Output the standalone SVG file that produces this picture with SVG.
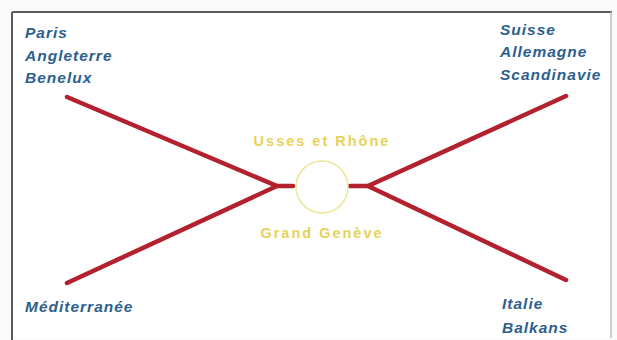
<svg xmlns="http://www.w3.org/2000/svg" width="617" height="340" viewBox="0 0 617 340">
<style>
.lbl{font-family:"Liberation Sans",Arial,sans-serif;font-style:italic;font-weight:bold;font-size:15.5px;letter-spacing:1px;fill:#2d5f8e;}
.ctr{font-family:"Liberation Sans",Arial,sans-serif;font-weight:bold;font-size:14.5px;letter-spacing:2px;fill:#e6d25a;text-anchor:middle;}
.rd{stroke:#b3202e;stroke-width:4.5;fill:none;stroke-linecap:round;}
</style>
<rect width="617" height="340" fill="#fafafa"/>
<rect x="12" y="12" width="599" height="326" fill="#ffffff"/>
<line x1="12" y1="12" x2="612" y2="12" stroke="#5a5a5a" stroke-width="2"/>
<line x1="12" y1="12" x2="12" y2="340" stroke="#5a5a5a" stroke-width="2"/>
<line x1="611" y1="12" x2="611" y2="338" stroke="#bdbdbd" stroke-width="1.5"/>
<g id="connectors">
<polyline class="rd" points="67,97 277,186 293,186"/>
<polyline class="rd" points="67,283 277,186"/>
<polyline class="rd" points="350,186 368,186 566,96"/>
<polyline class="rd" points="368,186 566,280"/>
</g>
<g id="center">
<circle cx="322" cy="187" r="26" fill="#ffffff" stroke="#ece79a" stroke-width="1.5"/>
<text class="ctr" x="322" y="146">Usses et Rhône</text>
<text class="ctr" x="322" y="238">Grand Genève</text>
</g>
<g id="nw"><text class="lbl" x="25" y="38">Paris</text><text class="lbl" x="25" y="61">Angleterre</text><text class="lbl" x="25" y="83">Benelux</text></g>
<g id="ne"><text class="lbl" x="500" y="35">Suisse</text><text class="lbl" x="500" y="57">Allemagne</text><text class="lbl" x="500" y="80">Scandinavie</text></g>
<g id="sw"><text class="lbl" x="25" y="312">Méditerranée</text></g>
<g id="se"><text class="lbl" x="502" y="309">Italie</text><text class="lbl" x="502" y="333">Balkans</text></g>
</svg>
